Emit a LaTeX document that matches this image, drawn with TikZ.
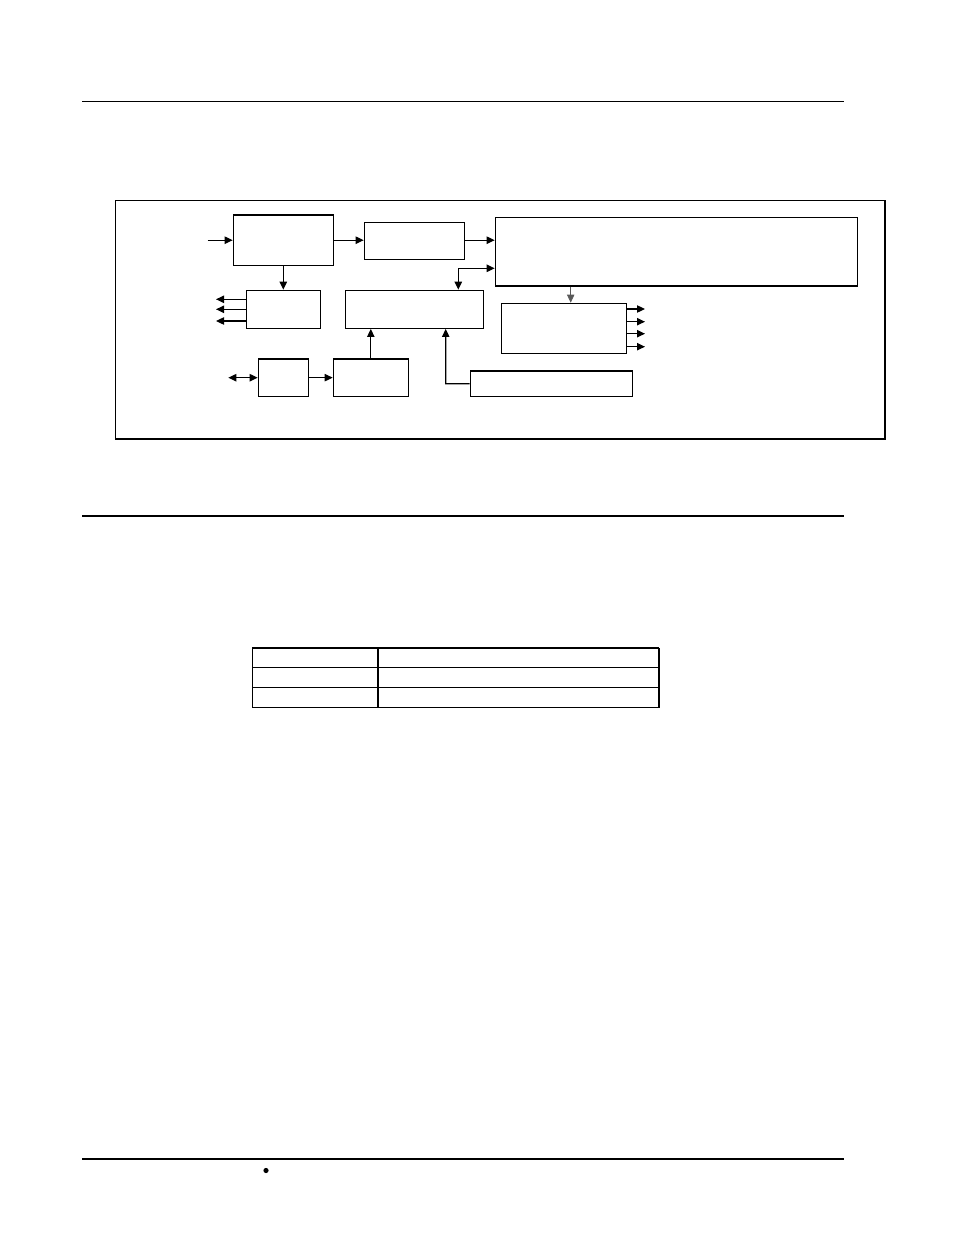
\documentclass[tikz,border=0pt]{standalone}
\usetikzlibrary{arrows.meta,fit}
\begin{document}
\begin{tikzpicture}[x=0.75pt,y=-0.75pt,
  box/.style={draw=black,line width=0.9pt,inner sep=0pt,fit={#1}},
  arr/.style={line width=0.9pt,-{Triangle[length=6pt,width=5.5pt]}},
  arrboth/.style={line width=0.9pt,{Triangle[length=6pt,width=5.5pt]}-{Triangle[length=6pt,width=5.5pt]}},
  rule/.style={line width=0.9pt},
  thickrule/.style={line width=1.6pt}]
\useasboundingbox (0,0) rectangle (954,1235);
% page rules
\coordinate (r1a) at (82,101.3); \coordinate (r1b) at (843.7,101.3);
\coordinate (r2a) at (82,516); \coordinate (r2b) at (843.7,516);
\coordinate (r3a) at (82,1159); \coordinate (r3b) at (843.7,1159);
\draw[rule] (r1a) -- (r1b);
\draw[rule] (r2a) -- (r2b);
\draw[thickrule] (r3a) -- (r3b);
\fill (266,1170.5) circle (2.6);
% frame
\node[box={(115.3,200.3) (885,439)}] (frame) {};
% blocks
\node[box={(233.3,215) (333.3,265.3)}] (A) {};
\node[box={(364.3,222.3) (464.3,259.3)}] (B) {};
\node[box={(495.3,217.3) (857.7,286)}] (C) {};
\node[box={(246.3,290.3) (320.3,328.3)}] (E) {};
\node[box={(345.3,290.3) (483.3,328.3)}] (D) {};
\node[box={(501.3,303.3) (626.3,353.3)}] (I) {};
\node[box={(258.3,359) (308.7,396.3)}] (F) {};
\node[box={(333.3,359) (408.3,396.3)}] (G) {};
\node[box={(470.3,371) (632.3,396.3)}] (H) {};
% connectors
\coordinate (inA) at (207.7,240.2);
\draw[arr] (inA) -- (inA -| A.west);
\draw[arr] (A.east |- inA) -- (inA -| B.west);
\draw[arr] (B.east |- inA) -- (inA -| C.west);
\draw[arr] (A.south) -- (E.north);
\coordinate (eo1) at (216,299.3);
\coordinate (eo2) at (216,309.3);
\coordinate (eo3) at (216,321);
\draw[arr] (eo1 -| E.west) -- (eo1);
\draw[arr] (eo2 -| E.west) -- (eo2);
\draw[arr] (eo3 -| E.west) -- (eo3);
\coordinate (dc) at (458.3,268.3);
\draw[arrboth] (dc |- D.north) -- (dc) -- (dc -| C.west);
\coordinate (fo) at (228.3,377.7);
\draw[arrboth] (fo) -- (fo -| F.west);
\draw[arr] (F.east) -- (G.west);
\draw[arr] (G.north) -- (G.north |- D.south);
\coordinate (hd) at (445.7,383.7);
\draw[arr] (H.west) -- (hd) -- (hd |- D.south);
\coordinate (ci) at (570.7,300);
\draw[arr,line width=0.6pt,draw=black!65] (ci |- C.south) -- (ci |- I.north);
\coordinate (io1) at (645,309);
\coordinate (io2) at (645,321.7);
\coordinate (io3) at (645,333.7);
\coordinate (io4) at (645,346.7);
\draw[arr] (io1 -| I.east) -- (io1);
\draw[arr] (io2 -| I.east) -- (io2);
\draw[arr] (io3 -| I.east) -- (io3);
\draw[arr] (io4 -| I.east) -- (io4);
% table
\draw[rule] (252.3,648.3) rectangle (659,707.7);
\draw[thickrule] (252.3,648.3) -- (659,648.3);
\draw[rule] (252.3,667.3) -- (659,667.3);
\draw[rule] (252.3,687.7) -- (659,687.7);
\draw[thickrule] (378.3,648.3) -- (378.3,707.7);
\end{tikzpicture}
\end{document}
